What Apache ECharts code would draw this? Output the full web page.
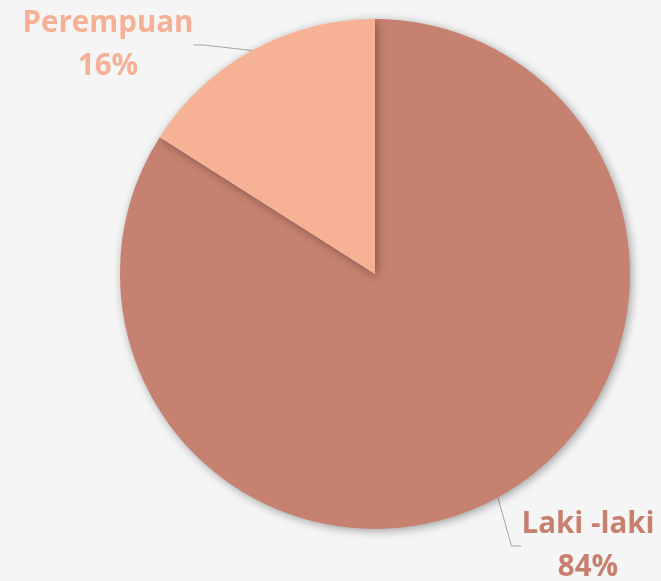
<!DOCTYPE html>
<html><head><meta charset="utf-8">
<script src="https://cdn.jsdelivr.net/npm/echarts@6/dist/echarts.min.js"></script>
<style>html,body{margin:0;padding:0;background:#f5f5f5}#c{width:661px;height:581px}</style>
</head><body><div id="c"></div>
<script>
const categories = ['Laki -laki', 'Perempuan'];
const values = [84, 16];
const sliceColors = ['#c68170', '#f7b195'];
const labelColors = ['#c8806e', '#f5b095'];

const chart = echarts.init(document.getElementById('c'), null, {renderer: 'canvas'});
const data = categories.map((n, i) => ({
  name: n, value: values[i],
  itemStyle: {color: sliceColors[i]},
  label: {color: labelColors[i]}
}));
chart.setOption({
  backgroundColor: '#f5f5f5',
  animation: false,
  series: [{
    type: 'pie',
    center: [375, 274],
    radius: 255,
    startAngle: 90,
    clockwise: true,
    data: data,
    itemStyle: {shadowBlur: 10, shadowColor: 'rgba(0,0,0,0.35)', shadowOffsetX: 2, shadowOffsetY: 2},
    label: {
      show: true,
      formatter: p => p.name + '\n' + p.value + '%',
      fontFamily: 'Open Sans',
      fontWeight: 'bold',
      fontSize: 29.5,
      lineHeight: 43,
      align: 'center',
      overflow: 'none'
    },
    labelLine: {show: true, lineStyle: {color: '#a6a6a6', width: 1}, length: 20, length2: 10},
    labelLayout: function (params) {
      if (params.dataIndex === 1) {
        return {x: 108, y: 45, align: 'center', verticalAlign: 'middle'};
      }
      return {x: 588, y: 546, align: 'center', verticalAlign: 'middle'};
    }
  }]
});
</script></body></html>
